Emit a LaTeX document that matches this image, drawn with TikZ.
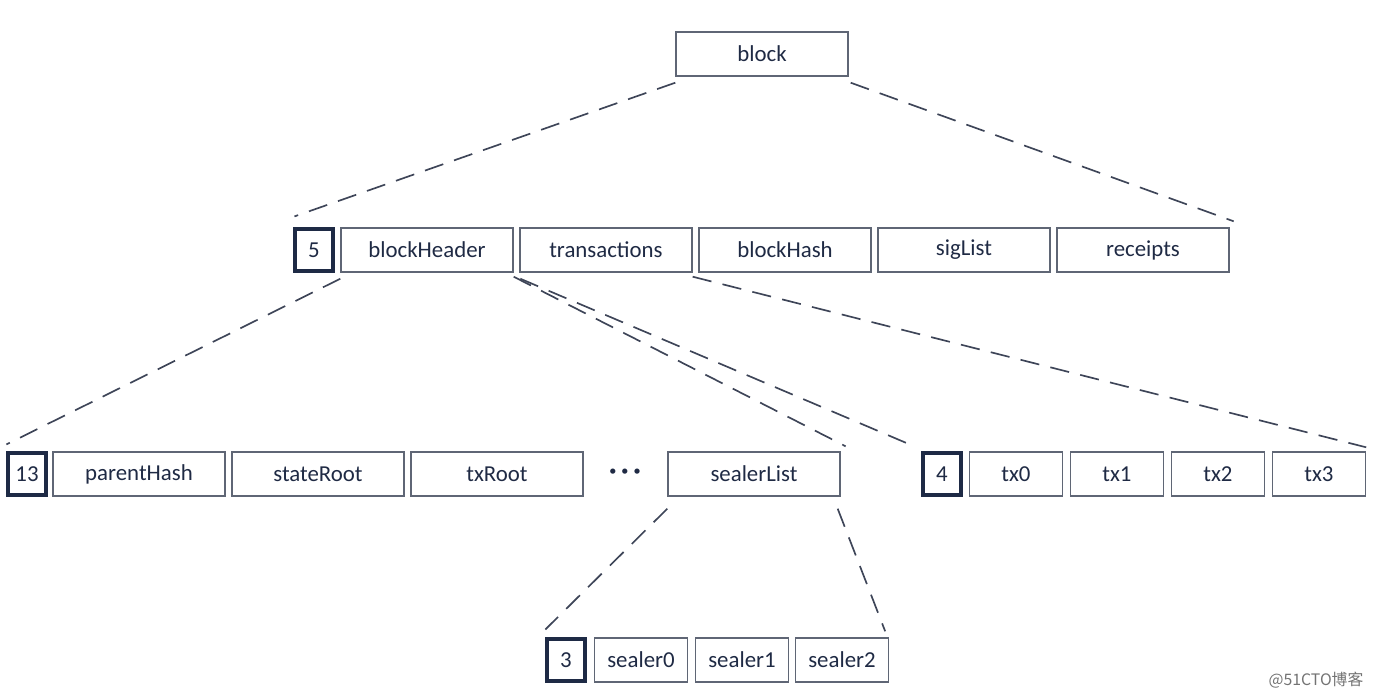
\documentclass[tikz,border=0pt]{standalone}
\usepackage{fontspec}
\setmainfont{Carlito}
\newfontfamily\cjk{Noto Sans CJK SC}
\usepackage{xcolor}
\usetikzlibrary{positioning}

\definecolor{boxline}{HTML}{5F6675}
\definecolor{cntline}{HTML}{1E2A45}
\definecolor{txtcol}{HTML}{1F2A44}
\definecolor{dashcol}{HTML}{3E4558}

\tikzset{
  field/.style={draw=boxline, line width=0.8pt, minimum width=3.44cm,
    minimum height=0.88cm, inner sep=0pt, text=txtcol},
  shortfield/.style={field, minimum width=1.86cm},
  countbox/.style={draw=cntline, line width=1.8pt, minimum width=0.76cm,
    minimum height=0.84cm, inner sep=0pt, text=txtcol},
  link/.style={draw=dashcol, line width=0.95pt, dash pattern=on 11pt off 6.5pt}
}

\begin{document}
\begin{tikzpicture}[x=0.02cm, y=-0.02cm, font=\fontsize{13}{15}\selectfont]
  \useasboundingbox (0,0) rectangle (1374,698);
  % Top level
  \node[field] (block) at (762,54) {block};
  % Block fields
  \node[countbox] (n5) at (314,250) {5};
  \node[field] (hdr)  at (427,250) {blockHeader};
  \node[field] (txs)  at (606,250) {transactions};
  \node[field] (bhash) at (785,250) {blockHash};
  \node[field] (sigs) at (964,250) {sigList};
  \node[field] (rcpt) at (1143,250) {receipts};
  % Header fields
  \node[countbox] (n13) at (27,474) {13};
  \node[field] (phash) at (139,474) {parentHash};
  \node[field] (sroot) at (318,474) {stateRoot};
  \node[field] (txroot) at (497,474) {txRoot};
  \node[text=txtcol, font=\fontsize{16}{16}\selectfont\bfseries] (dots) at (625,474)
    {\textperiodcentered\,\textperiodcentered\,\textperiodcentered};
  \node[field] (slist) at (754,474) {sealerList};
  % Transactions
  \node[countbox] (n4) at (942,474) {4};
  \node[shortfield] (tx0) at (1016,474) {tx0};
  \node[shortfield] (tx1) at (1117,474) {tx1};
  \node[shortfield] (tx2) at (1218,474) {tx2};
  \node[shortfield] (tx3) at (1319,474) {tx3};
  % Sealers
  \node[countbox] (n3) at (566,660) {3};
  \node[shortfield] (s0) at (641,660) {sealer0};
  \node[shortfield] (s1) at (742,660) {sealer1};
  \node[shortfield] (s2) at (842,660) {sealer2};
  % Expansion lines
  \draw[link] ([shift={(0,6)}]block.south west) -- ([shift={(1,-11)}]n5.north west);
  \draw[link] ([shift={(2,6)}]block.south east) -- ([shift={(4,-6)}]rcpt.north east);
  \draw[link] ([shift={(0,6)}]hdr.south west) -- ([shift={(0,-7)}]n13.north west);
  \draw[link] ([shift={(0,4)}]hdr.south east) -- ([shift={(5,-5)}]slist.north east);
  \draw[link] ([shift={(1,6)}]txs.south west) -- ([shift={(-14,-8)}]n4.north west);
  \draw[link] ([shift={(0,4)}]txs.south east) -- ([shift={(0,-4)}]tx3.north east);
  \draw[link] ([shift={(0,12)}]slist.south west) -- ([shift={(0,-8)}]n3.north west);
  \draw[link] ([shift={(-3,12)}]slist.south east) -- ([shift={(-4,-6)}]s2.north east);
  % Watermark
  \node[text=black!55, font=\cjk\fontsize{9}{10}\selectfont] (mark) at (1316,680) {@51CTO博客};
\end{tikzpicture}
\end{document}
